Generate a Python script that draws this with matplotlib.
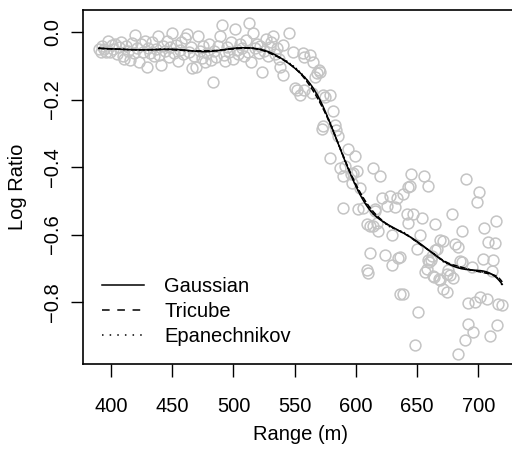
import numpy as np
import matplotlib
matplotlib.use("Agg")
import matplotlib.pyplot as plt
from matplotlib.lines import Line2D

plt.rcParams['font.family'] = ['Liberation Sans', 'DejaVu Sans']

# LIDAR scatter: flat band first (even 1.5 m grid) ...
range_flat = [390.0, 391.5, 393.0, 394.5, 396.0, 397.5, 399.0, 400.5, 402.0, 403.5,
              405.0, 406.5, 408.0, 409.5, 411.0, 412.5, 414.0, 415.5, 417.0, 418.5,
              420.0, 421.5, 423.0, 424.5, 426.0, 427.5, 429.0, 430.5, 432.0, 433.5,
              435.0, 436.5, 438.0, 439.5, 441.0, 442.5, 444.0, 445.5, 447.0, 448.5,
              450.0, 451.5, 453.0, 454.5, 456.0, 457.5, 459.0, 460.5, 462.0, 463.5,
              465.0, 466.5, 468.0, 469.5, 471.0, 472.5, 474.0, 475.5, 477.0, 478.5,
              480.0, 481.5, 483.0, 484.5, 486.0, 487.5, 489.0, 490.5, 492.0, 493.5,
              495.0, 496.5, 498.0, 499.5, 501.0, 502.5, 504.0, 505.5, 507.0, 508.5,
              510.0, 511.5, 513.0, 514.5, 516.0, 517.5, 519.0, 520.5, 522.0, 523.5,
              525.0, 526.5, 528.0, 529.5, 531.0, 532.5, 534.0, 535.5, 537.0]
ratio_flat = [-0.050, -0.060, -0.042, -0.051, -0.060, -0.028, -0.059, -0.039, -0.050, -0.035,
              -0.066, -0.045, -0.030, -0.072, -0.080, -0.041, -0.055, -0.082, -0.033, -0.061,
              -0.009, -0.048, -0.090, -0.037, -0.058, -0.026, -0.104, -0.046, -0.063, -0.031,
              -0.072, -0.050, -0.012, -0.067, -0.098, -0.040, -0.056, -0.028, -0.075, -0.044,
              -0.003, -0.061, -0.038, -0.085, -0.052, -0.030, -0.066, -0.018, -0.006, -0.058,
              -0.043, -0.107, -0.071, -0.104, -0.012, -0.055, -0.078, -0.040, -0.090, -0.062,
              -0.035, -0.083, -0.149, -0.057, -0.074, -0.040, -0.012, 0.021, -0.068, -0.087,
              -0.045, -0.060, -0.030, -0.079, 0.009, -0.052, -0.066, -0.035, -0.047, -0.072,
              -0.025, -0.058, 0.027, -0.090, -0.003, -0.048, -0.036, -0.062, -0.040, -0.119,
              -0.055, -0.021, -0.070, -0.045, -0.030, -0.012, -0.066, -0.048, -0.080]

# ... then the drop and the noisy tail
range_tail = [538.0, 540.5, 540.5, 545.0, 549.0, 550.0, 552.0, 554.0, 557.0, 558.0,
              558.0, 562.6, 564.0, 565.0, 567.0, 568.0, 570.0, 571.0, 572.0, 573.0,
              573.0, 575.0, 579.0, 579.0, 581.0, 583.0, 584.0, 585.5, 587.0, 589.5,
              589.5, 591.0, 593.6, 595.6, 597.0, 597.7, 599.0, 601.0, 602.0, 603.0,
              606.0, 609.0, 609.0, 609.5, 611.6, 611.6, 614.0, 614.0, 615.7, 616.0,
              617.0, 618.0, 620.0, 621.0, 624.0, 625.5, 628.0, 629.6, 629.6, 632.0,
              633.7, 634.4, 636.0, 636.0, 638.6, 638.6, 641.8, 642.6, 642.6, 644.0,
              645.0, 646.7, 648.4, 650.0, 650.8, 652.4, 654.0, 655.7, 656.5, 658.0,
              659.0, 659.0, 660.0, 661.0, 662.0, 663.0, 664.0, 664.7, 664.7, 666.0,
              668.0, 668.8, 668.8, 671.0, 671.0, 674.5, 674.5, 675.0, 677.0, 678.6,
              679.0, 681.0, 683.0, 683.5, 685.0, 686.8, 686.8, 689.0, 690.0, 691.6,
              691.6, 695.0, 695.8, 697.4, 699.0, 700.6, 701.5, 704.0, 704.7, 707.0,
              708.0, 709.6, 711.0, 712.0, 713.7, 714.5, 715.0, 716.0, 719.5]
ratio_tail = [-0.104, -0.039, -0.128, -0.003, -0.060, -0.167, -0.173, -0.188, -0.063, -0.075,
              -0.173, -0.069, -0.182, -0.090, -0.134, -0.122, -0.113, -0.119, -0.287, -0.278,
              -0.188, -0.194, -0.373, -0.188, -0.233, -0.275, -0.290, -0.307, -0.403, -0.427,
              -0.522, -0.397, -0.346, -0.421, -0.448, -0.418, -0.367, -0.412, -0.525, -0.463,
              -0.520, -0.570, -0.705, -0.713, -0.654, -0.576, -0.403, -0.576, -0.525, -0.531,
              -0.567, -0.591, -0.427, -0.492, -0.660, -0.516, -0.487, -0.600, -0.690, -0.519,
              -0.492, -0.669, -0.666, -0.776, -0.481, -0.776, -0.540, -0.567, -0.460, -0.457,
              -0.421, -0.540, -0.928, -0.642, -0.830, -0.600, -0.552, -0.427, -0.710, -0.701,
              -0.457, -0.675, -0.681, -0.675, -0.663, -0.722, -0.725, -0.570, -0.645, -0.642,
              -0.731, -0.615, -0.734, -0.761, -0.618, -0.716, -0.770, -0.705, -0.720, -0.540,
              -0.728, -0.627, -0.636, -0.955, -0.678, -0.591, -0.681, -0.913, -0.436, -0.803,
              -0.866, -0.696, -0.890, -0.800, -0.504, -0.475, -0.785, -0.672, -0.582, -0.791,
              -0.621, -0.900, -0.707, -0.675, -0.624, -0.561, -0.869, -0.806, -0.809]

x = np.array(range_flat + range_tail)
y = np.array(ratio_flat + ratio_tail)


def local_linear(x, y, grid, kern, h):
    fit = np.empty_like(grid)
    for k, x0 in enumerate(grid):
        w = kern((x - x0) / h)
        X = np.column_stack([np.ones_like(x), x - x0])
        W = X * w[:, None]
        beta = np.linalg.solve(X.T @ W, W.T @ y)
        fit[k] = beta[0]
    return fit


gauss = lambda u: np.exp(-0.5 * u ** 2)
tricube = lambda u: np.where(np.abs(u) < 1, (1 - np.abs(u) ** 3) ** 3, 0.0)
epan = lambda u: np.where(np.abs(u) < 1, 1 - u ** 2, 0.0)

grid = np.linspace(x.min(), x.max(), 300)
fit_g = local_linear(x, y, grid, gauss, 13.0)
fit_t = local_linear(x, y, grid, tricube, 38.0)
fit_e = local_linear(x, y, grid, epan, 29.0)

fig = plt.figure(figsize=(5.12, 4.51), dpi=100)
ax = fig.add_axes([82.6 / 512, 1 - 364 / 451, (519 - 82.6) / 512, 354 / 451])

ax.plot(x, y, 'o', mfc='none', mec='#C4C4C4', ms=7.8, mew=1.1, zorder=1)
ax.plot(grid, fit_g, '-', color='black', lw=1.1, zorder=3)
ax.plot(grid, fit_t, '--', color='black', lw=1.1, zorder=3)
ax.plot(grid, fit_e, ':', color='black', lw=1.1, zorder=3)

ax.set_xlim(376.8, 733.2)
ax.set_ylim(-0.9837, 0.0652)
ax.set_xticks([400, 450, 500, 550, 600, 650, 700])
ax.set_yticks([0.0, -0.2, -0.4, -0.6, -0.8])
ax.set_yticklabels(['0.0', '\u22120.2', '\u22120.4', '\u22120.6', '\u22120.8'],
                   rotation=90, va='center')
ax.tick_params(direction='out', length=9, width=1.0, labelsize=14.5, pad=15)
ax.tick_params(axis='y', pad=6)
for s in ax.spines.values():
    s.set_linewidth(1.2)

ax.set_xlabel('Range (m)', fontsize=14.5, labelpad=6)
ax.set_ylabel('Log Ratio', fontsize=14.5, labelpad=11)

handles = [Line2D([], [], color='black', ls='-', lw=1.1),
           Line2D([], [], color='black', ls=(0, (5, 5)), lw=1.1),
           Line2D([], [], color='black', ls=(0, (1, 4)), lw=1.1)]
ax.legend(handles, ['Gaussian', 'Tricube', 'Epanechnikov'], frameon=False,
          loc='upper left', bbox_to_anchor=(102 / 512, 1 - 277 / 451),
          bbox_transform=fig.transFigure, fontsize=14.5, handlelength=2.1,
          handletextpad=1.0, labelspacing=0.3, borderpad=0, borderaxespad=0)

fig.savefig('out.png', dpi=100)
